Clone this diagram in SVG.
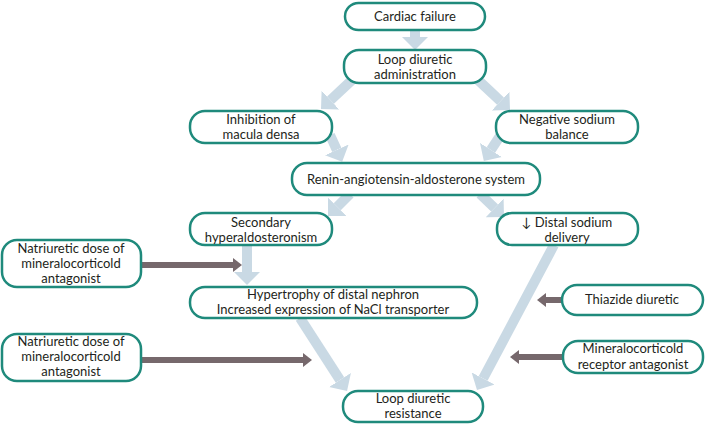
<svg xmlns="http://www.w3.org/2000/svg" width="705" height="424" viewBox="0 0 705 424">
<defs>
<style>
.box{fill:#fff;stroke:#1f8a7c;stroke-width:2.5}
.t{font-family:Lato,"Open Sans",sans-serif;font-size:13px;fill:#231f20;text-anchor:middle}
.la{stroke:#c9d9e4;stroke-width:10;fill:none}
.da{stroke:#76686c;stroke-width:6;fill:none}
</style>
<marker id="lh" markerUnits="userSpaceOnUse" markerWidth="16" markerHeight="26" refX="0" refY="13" orient="auto" viewBox="0 0 16 26">
<path d="M0,0 L13,13 L0,26 Z" fill="#c9d9e4"/>
</marker>
<marker id="dh" markerUnits="userSpaceOnUse" markerWidth="10" markerHeight="16" refX="0" refY="8" orient="auto" viewBox="0 0 10 16">
<path d="M0,1 L9,8 L0,15 Z" fill="#76686c"/>
</marker>
</defs>
<rect width="705" height="424" fill="#fff"/>
<g id="connectors">
<line class="la" x1="415" y1="30" x2="415" y2="37" marker-end="url(#lh)"/>
<line class="la" x1="352" y1="80" x2="330.5" y2="100.1" marker-end="url(#lh)"/>
<line class="la" x1="478" y1="80" x2="500.5" y2="101.1" marker-end="url(#lh)"/>
<line class="la" x1="330" y1="135" x2="336.8" y2="149.9" marker-end="url(#lh)"/>
<line class="la" x1="500" y1="136" x2="490.9" y2="150" marker-end="url(#lh)"/>
<line class="la" x1="350" y1="194" x2="337.2" y2="206.8" marker-end="url(#lh)"/>
<line class="la" x1="480" y1="194" x2="494.6" y2="208" marker-end="url(#lh)"/>
<line class="la" x1="247" y1="246" x2="247" y2="272" marker-end="url(#lh)"/>
<line class="la" x1="300" y1="318" x2="340" y2="380" marker-end="url(#lh)"/>
<line class="la" x1="554" y1="245" x2="483.1" y2="378.5" marker-end="url(#lh)"/>
<line class="da" x1="141" y1="265" x2="233" y2="265" marker-end="url(#dh)"/>
<line class="da" x1="141" y1="360" x2="303" y2="360" marker-end="url(#dh)"/>
<line class="da" x1="562" y1="300" x2="546" y2="300" marker-end="url(#dh)"/>
<line class="da" x1="563" y1="357" x2="519" y2="357" marker-end="url(#dh)"/>
</g>
<g id="n1"><rect class="box" x="345" y="3" width="140" height="27" rx="13.5"/><text class="t" x="415" y="21">Cardiac failure</text></g>
<g id="n2"><rect class="box" x="344" y="50" width="142" height="33" rx="15"/><text class="t" x="415" y="64">Loop diuretic</text><text class="t" x="415" y="79">administration</text></g>
<g id="n3"><rect class="box" x="190" y="111" width="142" height="32" rx="15"/><text class="t" x="261" y="124">Inhibition of</text><text class="t" x="261" y="139">macula densa</text></g>
<g id="n4"><rect class="box" x="496" y="111" width="142" height="32" rx="15"/><text class="t" x="567" y="124">Negative sodium</text><text class="t" x="567" y="139">balance</text></g>
<g id="n5"><rect class="box" x="292" y="163" width="248" height="32" rx="15"/><text class="t" x="416" y="184">Renin-angiotensin-aldosterone system</text></g>
<g id="n6"><rect class="box" x="190" y="213" width="142" height="32" rx="15"/><text class="t" x="261" y="227">Secondary</text><text class="t" x="261" y="242">hyperaldosteronism</text></g>
<g id="n7"><rect class="box" x="497" y="213" width="141" height="32" rx="15"/><text class="t" x="567" y="227">↓ Distal sodium</text><text class="t" x="567" y="242">delivery</text></g>
<g id="n8"><rect class="box" x="2" y="240" width="139" height="47" rx="15"/><text class="t" x="71" y="253">Natriuretic dose of</text><text class="t" x="71" y="268">mineralocorticold</text><text class="t" x="71" y="283">antagonist</text></g>
<g id="n9"><rect class="box" x="190" y="287" width="287" height="31" rx="15"/><text class="t" x="333" y="299">Hypertrophy of distal nephron</text><text class="t" x="333" y="314">Increased expression of NaCl transporter</text></g>
<g id="n10"><rect class="box" x="562" y="285" width="141" height="30" rx="15"/><text class="t" x="632" y="304">Thiazide diuretic</text></g>
<g id="n11"><rect class="box" x="2" y="334" width="139" height="47" rx="15"/><text class="t" x="71" y="346">Natriuretic dose of</text><text class="t" x="71" y="361">mineralocorticold</text><text class="t" x="71" y="376">antagonist</text></g>
<g id="n12"><rect class="box" x="563" y="341" width="140" height="32" rx="15"/><text class="t" x="633" y="353">Mineralocorticold</text><text class="t" x="633" y="369">receptor antagonist</text></g>
<g id="n13"><rect class="box" x="343" y="391" width="140" height="31" rx="15"/><text class="t" x="413" y="403">Loop diuretic</text><text class="t" x="413" y="418">resistance</text></g>
</svg>
